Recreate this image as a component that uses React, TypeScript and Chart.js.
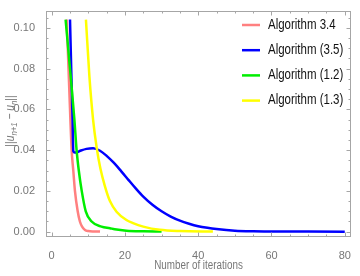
import React, { useEffect, useRef } from "react";
import { Chart, registerables } from "chart.js";

Chart.register(...registerables);

// ---- data ----
const seriesLabels = ["Algorithm 3.4", "Algorithm (3.5)", "Algorithm (1.2)", "Algorithm (1.3)"];

const alg34X = [4.1, 4.8, 5.45, 5.9, 6.35, 7.1, 7.7, 8.3, 9.1, 10, 11.5, 13.2];
const alg34Y = [0.104, 0.07, 0.04, 0.03, 0.02, 0.01, 0.005, 0.0025, 0.0008, 0.0003, 0.0001, 0.00005];

const alg35X = [5.0, 5.4, 5.7, 5.9, 6.3, 6.8, 8, 9.5, 11.3, 13.2, 15, 17, 19, 21, 23, 25, 27.5, 30, 32.5, 35, 37.5, 40, 42.5, 45, 50, 55, 60, 70, 80];
const alg35Y = [0.104, 0.075, 0.055, 0.0395, 0.0388, 0.0389, 0.0398, 0.0406, 0.0409, 0.0397, 0.0372, 0.0337, 0.0296, 0.0253, 0.0211, 0.0172, 0.0132, 0.01, 0.0074, 0.0054, 0.0039, 0.0027, 0.0019, 0.0013, 0.0005, 0.0002, 0.0001, 0.00005, 0.00002];

const alg12X = [3.8, 5.0, 6.2, 6.8, 7.4, 8.2, 9.3, 10.9, 13.6, 15.9, 17.2, 20.4, 25, 30];
const alg12Y = [0.104, 0.08, 0.055, 0.04, 0.03, 0.02, 0.01, 0.005, 0.0025, 0.0017, 0.0012, 0.0005, 0.0002, 0.0001];

const alg13X = [9.35, 10.3, 11.3, 12.3, 13.3, 14.5, 15.9, 17.7, 20.4, 22.2, 25, 29.5, 35, 44];
const alg13Y = [0.104, 0.076, 0.055, 0.041, 0.031, 0.0225, 0.015, 0.0098, 0.0057, 0.0042, 0.0025, 0.0009, 0.0003, 0.0001];

const xTickValues = [0, 20, 40, 60, 80];
const yTickValues = [0, 0.02, 0.04, 0.06, 0.08, 0.1];

const xTitle = "Number of iterations";

// ---- styles ----
const colors = ["#ff8080", "#0000ff", "#00ee00", "#ffff00"];
const FONT = "'Liberation Sans', Arial, sans-serif";
const frameColor = "#a6a6a6";
const labelColor = "#777777";
const CONDENSE = 0.82;

const toPoints = (xs: number[], ys: number[]) => xs.map((x, i) => ({ x, y: ys[i] }));

const framePlugin = {
  id: "frameTicks",
  afterDraw(chart: any) {
    const { ctx, chartArea } = chart;
    const xs = chart.scales.x;
    const ys = chart.scales.y;
    const { left, right, top, bottom } = chartArea;
    ctx.save();
    ctx.strokeStyle = frameColor;
    ctx.lineWidth = 1;
    ctx.strokeRect(left + 0.5, top + 0.5, right - left - 1, bottom - top - 1);
    ctx.beginPath();
    for (let v = 0; v <= 80; v += 5) {
      const px = Math.round(xs.getPixelForValue(v)) + 0.5;
      const len = v % 20 === 0 ? 4.5 : 2.5;
      ctx.moveTo(px, bottom);
      ctx.lineTo(px, bottom - len);
      ctx.moveTo(px, top);
      ctx.lineTo(px, top + len);
    }
    for (let k = 0; k <= 21; k++) {
      const v = k * 0.005;
      const py = Math.round(ys.getPixelForValue(v)) + 0.5;
      const len = k % 4 === 0 ? 4.5 : 2.5;
      ctx.moveTo(left, py);
      ctx.lineTo(left + len, py);
      ctx.moveTo(right, py);
      ctx.lineTo(right - len, py);
    }
    ctx.stroke();
    ctx.restore();

    // x title (condensed)
    ctx.save();
    ctx.fillStyle = labelColor;
    ctx.font = `12px ${FONT}`;
    ctx.textAlign = "center";
    ctx.textBaseline = "middle";
    ctx.translate((left + right) / 2, bottom + 29);
    ctx.scale(CONDENSE, 1);
    ctx.fillText(xTitle, 0, 0);
    ctx.restore();

    // y title: ||u_{n+1} - u_n||
    ctx.save();
    ctx.fillStyle = labelColor;
    ctx.translate(10, (top + bottom) / 2 - 3);
    ctx.rotate(-Math.PI / 2);
    ctx.scale(CONDENSE, 1);
    const parts: { t: string; sub?: boolean; it?: boolean }[] = [
      { t: "||" },
      { t: "u", it: true },
      { t: "n+1", sub: true, it: true },
      { t: " \u2212 " },
      { t: "u", it: true },
      { t: "n", sub: true, it: true },
      { t: "||" },
    ];
    const fontOf = (p: any) => `${p.it ? "italic " : ""}${p.sub ? 9.5 : 12.5}px ${FONT}`;
    let total = 0;
    for (const p of parts) {
      ctx.font = fontOf(p);
      total += ctx.measureText(p.t).width;
    }
    let cx = -total / 2;
    ctx.textAlign = "left";
    ctx.textBaseline = "alphabetic";
    for (const p of parts) {
      ctx.font = fontOf(p);
      ctx.fillText(p.t, cx, p.sub ? 6.5 : 4);
      cx += ctx.measureText(p.t).width;
    }
    ctx.restore();

    // legend inside plot
    ctx.save();
    ctx.textBaseline = "middle";
    ctx.textAlign = "left";
    chart.data.datasets.forEach((ds: any, i: number) => {
      const y = top + 14 + i * 25.2;
      ctx.strokeStyle = ds.borderColor;
      ctx.lineWidth = 2.5;
      ctx.beginPath();
      ctx.moveTo(right - 109, y);
      ctx.lineTo(right - 91, y);
      ctx.stroke();
      ctx.save();
      ctx.translate(right - 83, y);
      ctx.scale(CONDENSE, 1);
      ctx.font = `14px ${FONT}`;
      ctx.fillStyle = "#111";
      ctx.fillText(ds.label, 0, 0);
      ctx.restore();
    });
    ctx.restore();
  },
};

export default function App() {
  const ref = useRef<HTMLCanvasElement>(null);
  useEffect(() => {
    if (!ref.current) return;
    const xsArr = [alg34X, alg35X, alg12X, alg13X];
    const ysArr = [alg34Y, alg35Y, alg12Y, alg13Y];
    const chart = new Chart(ref.current, {
      type: "line",
      data: {
        datasets: seriesLabels.map((label, i) => ({
          label,
          data: toPoints(xsArr[i], ysArr[i]),
          borderColor: colors[i],
          backgroundColor: colors[i],
          borderWidth: 2.5,
          pointRadius: 0,
          cubicInterpolationMode: "monotone" as const,
          fill: false,
          order: 3 - i,
        })),
      },
      options: {
        responsive: false,
        animation: false,
        devicePixelRatio: 1,
        layout: { padding: { top: 11, right: 9, left: 0, bottom: 0 } },
        plugins: { legend: { display: false }, tooltip: { enabled: false } },
        scales: {
          x: {
            type: "linear",
            min: -1.55,
            max: 81.7,
            grid: { display: false },
            border: { display: false },
            afterFit: (s: any) => { s.height = 39; },
            afterBuildTicks: (s: any) => { s.ticks = xTickValues.map((v) => ({ value: v })); },
            ticks: {
              padding: 4,
              color: labelColor,
              font: { family: FONT, size: 11 },
              maxRotation: 0,
              callback: (v: any) => String(v),
            },
          },
          y: {
            type: "linear",
            min: -0.0026,
            max: 0.1082,
            grid: { display: false },
            border: { display: false },
            afterFit: (s: any) => { s.width = 46; },
            afterBuildTicks: (s: any) => { s.ticks = yTickValues.map((v) => ({ value: v })); },
            ticks: {
              padding: 3,
              color: labelColor,
              font: { family: FONT, size: 11 },
              callback: (v: any) => Number(v).toFixed(2),
            },
          },
        },
      },
      plugins: [framePlugin],
    });
    return () => chart.destroy();
  }, []);
  return (
    <div style={{ position: "absolute", left: 0, top: 0, width: 360, height: 276, background: "#fff" }}>
      <canvas ref={ref} width={360} height={276} />
    </div>
  );
}
